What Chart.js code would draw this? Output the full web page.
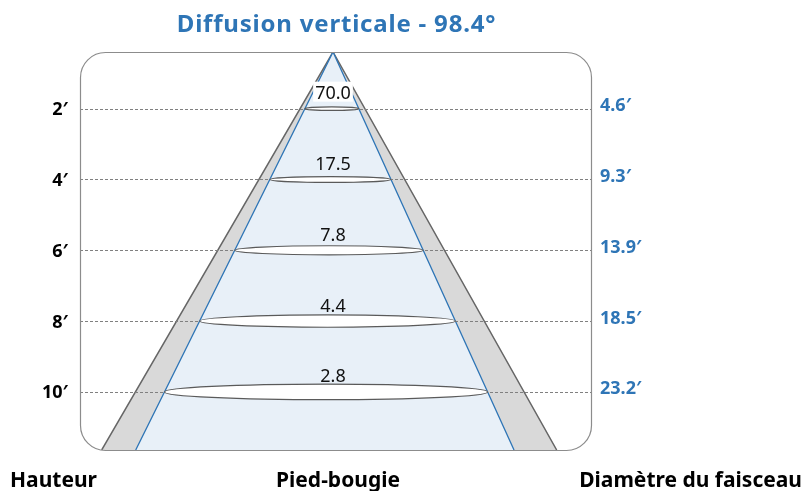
<!DOCTYPE html>
<html><head><meta charset="utf-8">
<script src="https://cdn.jsdelivr.net/npm/chart.js@4.4.1/dist/chart.umd.min.js"></script>
<style>html,body{margin:0;padding:0;background:#fff;}#wrap{width:805px;height:491px;}</style>
</head><body><div id="wrap"><canvas id="c" width="805" height="491"></canvas></div>
<script>
// ---- data ----
const chartTitle = 'Diffusion verticale - 98.4°';
const heights = [2, 4, 6, 8, 10];
const heightLabels = ['2′', '4′', '6′', '8′', '10′'];
const footCandles = [70.0, 17.5, 7.8, 4.4, 2.8];
const beamDiameters = [4.6, 9.3, 13.9, 18.5, 23.2];
const bottomLabels = ['Hauteur', 'Pied-bougie', 'Diamètre du faisceau'];
// cone outlines: x = feet across the beam axis, y = feet below the fixture
const outerCone = [{x: -15.78, y: 11.64}, {x: 0, y: 0.4}, {x: 15.26, y: 11.64}];
const beamCone  = [{x: -13.46, y: 11.64}, {x: 0, y: 0.4}, {x: 12.35, y: 11.64}];

const BLUE = '#2e75b6';
const FONT = '"Noto Sans", "Open Sans", sans-serif';

function edgeAt(cone, side, h) {
  const apex = cone[1], base = cone[side];
  const t = (h - apex.y) / (base.y - apex.y);
  return apex.x + t * (base.x - apex.x);
}

const overlay = {
  id: 'overlay',
  afterDatasetsDraw(chart) {
    const {ctx, chartArea: a, scales: {x, y}} = chart;
    ctx.save();
    // dashed height lines
    ctx.setLineDash([3, 2]);
    ctx.strokeStyle = '#808080';
    ctx.lineWidth = 1;
    heights.forEach(h => {
      const py = Math.round(y.getPixelForValue(h)) + 0.5;
      ctx.beginPath(); ctx.moveTo(a.left, py); ctx.lineTo(a.right, py); ctx.stroke();
    });
    ctx.setLineDash([]);
    // beam ellipses + foot-candle labels
    const cxAxis = x.getPixelForValue(0);
    heights.forEach((h, i) => {
      const xl = x.getPixelForValue(edgeAt(beamCone, 0, h));
      const xr = x.getPixelForValue(edgeAt(beamCone, 2, h));
      const cy = y.getPixelForValue(h);
      const rx = (xr - xl) / 2, ry = Math.max(1.8, rx * 0.048);
      ctx.beginPath();
      ctx.ellipse((xl + xr) / 2, cy, rx, ry, 0, 0, Math.PI * 2);
      ctx.fillStyle = '#ffffff'; ctx.fill();
      ctx.strokeStyle = '#5a5a5a'; ctx.lineWidth = 1.2; ctx.stroke();

      const txt = footCandles[i].toFixed(1);
      ctx.font = '18px ' + FONT;
      ctx.textAlign = 'center'; ctx.textBaseline = 'alphabetic';
      if (i === 0) {
        const w = ctx.measureText(txt).width;
        ctx.fillStyle = '#ffffff';
        ctx.fillRect(cxAxis - w / 2 - 2, cy - 27, w + 4, 20);
      }
      ctx.fillStyle = '#111111';
      ctx.fillText(txt, cxAxis, cy - 9.5);

      // left: height labels
      ctx.font = 'bold 18px ' + FONT;
      ctx.textAlign = 'right';
      ctx.fillStyle = '#000000';
      ctx.fillText(heightLabels[i], a.left - 12, cy + 6.5);
      // right: beam diameter labels
      ctx.textAlign = 'left';
      ctx.fillStyle = BLUE;
      ctx.fillText(beamDiameters[i].toFixed(1) + '′', a.right + 9, cy + 2.5);
    });
    ctx.restore();
  },
  afterDraw(chart) {
    const {ctx, chartArea: a, width} = chart;
    ctx.save();
    // rounded frame
    const r = 25, L = a.left + 0.5, T = a.top + 0.5, R = a.right + 0.5, B = a.bottom + 0.5;
    ctx.beginPath();
    ctx.moveTo(L + r, T);
    ctx.arcTo(R, T, R, B, r);
    ctx.arcTo(R, B, L, B, r);
    ctx.arcTo(L, B, L, T, r);
    ctx.arcTo(L, T, R, T, r);
    ctx.closePath();
    ctx.strokeStyle = '#8c8c8c'; ctx.lineWidth = 1.2; ctx.stroke();
    // title
    ctx.font = 'bold 24px ' + FONT;
    ctx.letterSpacing = '0.8px';
    ctx.fillStyle = BLUE;
    ctx.textAlign = 'center'; ctx.textBaseline = 'alphabetic';
    ctx.fillText(chartTitle, (a.left + a.right) / 2 + 1, 32);
    ctx.letterSpacing = '0px';
    // bottom captions
    ctx.font = 'bold 21px ' + FONT;
    ctx.fillStyle = '#000000';
    ctx.textAlign = 'left';
    ctx.fillText(bottomLabels[0], 10, 487);
    ctx.textAlign = 'center';
    ctx.fillText(bottomLabels[1], chart.scales.x.getPixelForValue(0) + 5, 487);
    ctx.textAlign = 'right';
    ctx.fillText(bottomLabels[2], width - 3, 487);
    ctx.restore();
  }
};

new Chart(document.getElementById('c'), {
  type: 'scatter',
  data: {
    datasets: [
      {
        data: beamCone, showLine: true, tension: 0, pointRadius: 0,
        borderColor: BLUE, borderWidth: 1.3, backgroundColor: '#e8f0f8',
        fill: 'shape', order: 1
      },
      {
        data: outerCone, showLine: true, tension: 0, pointRadius: 0,
        borderColor: '#666666', borderWidth: 1.5, backgroundColor: '#d9d9d9',
        fill: 'shape', order: 2
      }
    ]
  },
  options: {
    responsive: false, animation: false, devicePixelRatio: 1,
    layout: {padding: {left: 80, top: 52, right: 214, bottom: 41}},
    scales: {
      x: {type: 'linear', min: -17.26, max: 17.6, display: false},
      y: {type: 'linear', min: 0.4, max: 11.64, reverse: true, display: false}
    },
    plugins: {legend: {display: false}, tooltip: {enabled: false}, title: {display: false}}
  },
  plugins: [overlay]
});
</script></body></html>
